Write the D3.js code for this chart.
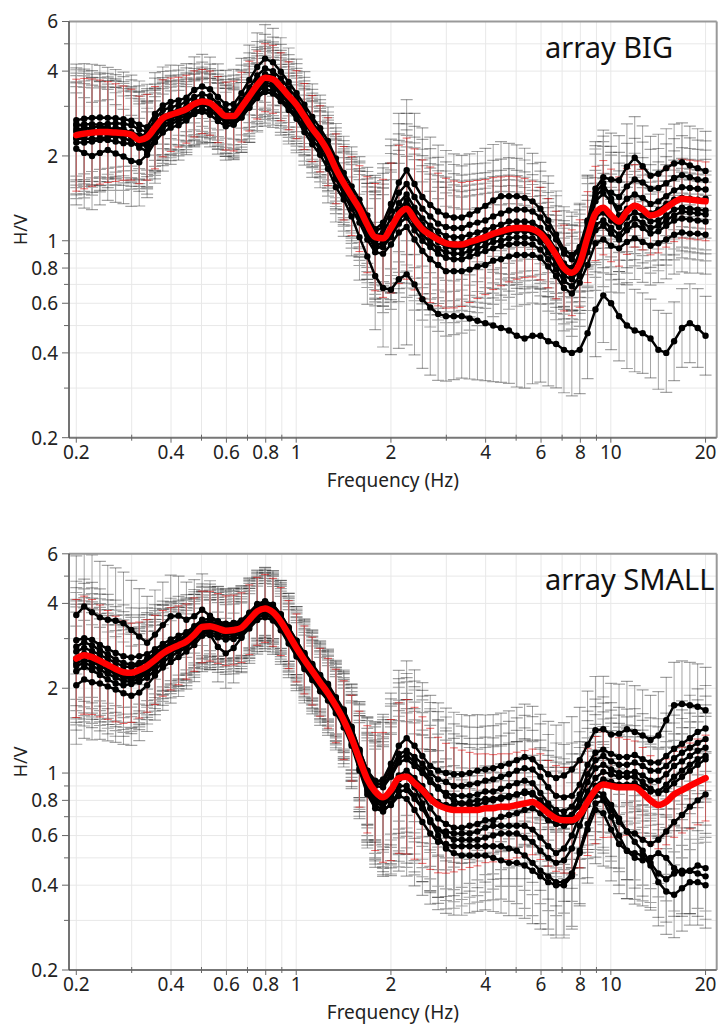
<!DOCTYPE html>
<html>
<head>
<meta charset="utf-8">
<script src="https://cdn.jsdelivr.net/npm/d3@7"></script>
<style>
  body { margin: 0; background: #fff; }
  svg { display: block; font-family: "Noto Sans", "Open Sans", sans-serif; }
</style>
</head>
<body>
<svg id="chart" width="723" height="1026"></svg>
<script>
// Frequency samples (Hz), 40 per decade
const freqs = [
  0.2000,0.2119,0.2244,0.2377,0.2518,0.2667,0.2825,0.2992,0.3170,0.3358,
  0.3557,0.3767,0.3991,0.4227,0.4477,0.4743,0.5024,0.5321,0.5637,0.5971,
  0.6325,0.6699,0.7096,0.7517,0.7962,0.8434,0.8934,0.9463,1.0024,1.0618,
  1.1247,1.1913,1.2619,1.3367,1.4159,1.4998,1.5887,1.6828,1.7825,1.8881,
  2.000,2.119,2.244,2.377,2.518,2.667,2.825,2.992,3.170,3.358,
  3.557,3.767,3.991,4.227,4.477,4.743,5.024,5.321,5.637,5.971,
  6.325,6.699,7.096,7.517,7.962,8.434,8.934,9.463,10.02,10.62,
  11.25,11.91,12.62,13.37,14.16,15.00,15.89,16.83,17.83,18.88,
  20.00
];

// ---- array BIG ----
const bigMean = [
  2.37,2.40,2.42,2.43,2.43,2.42,2.41,2.38,2.28,2.33,
  2.52,2.72,2.80,2.86,2.93,3.06,3.12,3.08,2.92,2.77,
  2.77,2.98,3.26,3.57,3.79,3.74,3.52,3.27,3.04,2.76,
  2.50,2.30,2.07,1.80,1.60,1.44,1.30,1.14,1.03,1.02,
  1.11,1.24,1.30,1.19,1.10,1.05,1.01,0.98,0.97,0.97,
  0.99,1.01,1.03,1.06,1.08,1.10,1.11,1.11,1.10,1.06,
  0.98,0.89,0.80,0.77,0.83,1.03,1.25,1.31,1.23,1.17,
  1.27,1.33,1.29,1.23,1.25,1.31,1.37,1.41,1.40,1.39,
  1.38
];
const bigSigma = [
  1.58,1.57,1.55,1.53,1.51,1.49,1.47,1.45,1.43,1.42,
  1.40,1.37,1.35,1.33,1.32,1.31,1.30,1.30,1.31,1.32,
  1.33,1.33,1.33,1.32,1.32,1.32,1.32,1.32,1.32,1.31,
  1.31,1.31,1.32,1.33,1.35,1.38,1.42,1.48,1.55,1.62,
  1.70,1.76,1.78,1.78,1.76,1.74,1.72,1.70,1.68,1.66,
  1.64,1.62,1.60,1.58,1.56,1.54,1.52,1.50,1.48,1.46,
  1.44,1.43,1.42,1.42,1.43,1.45,1.47,1.47,1.46,1.44,
  1.42,1.40,1.39,1.38,1.38,1.38,1.38,1.38,1.38,1.38,
  1.38
];
const bigStation1 = [
  2.68,2.71,2.73,2.74,2.73,2.72,2.70,2.67,2.58,2.53,
  2.82,3.02,3.11,3.15,3.22,3.43,3.53,3.45,3.24,3.05,
  3.05,3.34,3.72,4.14,4.43,4.30,3.98,3.66,3.34,3.04,
  2.75,2.51,2.26,1.96,1.74,1.56,1.40,1.23,1.10,1.16,
  1.35,1.61,1.78,1.59,1.43,1.34,1.27,1.23,1.21,1.21,
  1.24,1.28,1.33,1.39,1.44,1.44,1.44,1.42,1.38,1.30,
  1.18,1.05,0.93,0.89,0.95,1.18,1.53,1.68,1.65,1.64,
  1.83,1.97,1.84,1.70,1.73,1.81,1.88,1.90,1.85,1.81,
  1.77
];
const bigStation2 = [
  2.56,2.59,2.59,2.58,2.60,2.61,2.60,2.57,2.48,2.44,
  2.70,2.91,2.97,3.03,3.11,3.24,3.31,3.26,3.07,2.91,
  2.91,3.16,3.49,3.86,4.09,4.00,3.77,3.47,3.22,2.90,
  2.63,2.42,2.17,1.89,1.68,1.50,1.35,1.19,1.08,1.12,
  1.28,1.48,1.59,1.43,1.30,1.22,1.15,1.12,1.11,1.11,
  1.14,1.16,1.18,1.22,1.25,1.28,1.29,1.29,1.27,1.21,
  1.11,1.01,0.90,0.86,0.94,1.17,1.44,1.53,1.48,1.43,
  1.56,1.65,1.61,1.53,1.54,1.60,1.67,1.71,1.68,1.65,
  1.64
];
const bigStation3 = [
  2.44,2.45,2.44,2.48,2.50,2.49,2.46,2.43,2.37,2.33,
  2.57,2.77,2.86,2.92,2.99,3.12,3.18,3.14,2.98,2.83,
  2.83,3.04,3.36,3.68,3.90,3.85,3.59,3.34,3.10,2.82,
  2.55,2.35,2.11,1.84,1.63,1.47,1.33,1.15,1.04,1.07,
  1.20,1.36,1.46,1.31,1.20,1.13,1.08,1.04,1.03,1.03,
  1.05,1.07,1.09,1.12,1.14,1.17,1.17,1.17,1.16,1.11,
  1.03,0.93,0.83,0.80,0.87,1.10,1.38,1.47,1.38,1.31,
  1.41,1.46,1.42,1.35,1.38,1.44,1.51,1.55,1.54,1.53,
  1.52
];
const bigStation4 = [
  2.32,2.35,2.40,2.41,2.38,2.35,2.36,2.36,2.28,2.21,
  2.47,2.67,2.74,2.80,2.87,3.00,3.06,3.02,2.86,2.71,
  2.71,2.92,3.19,3.50,3.71,3.67,3.45,3.20,2.98,2.70,
  2.45,2.25,2.03,1.76,1.57,1.41,1.27,1.12,1.00,1.01,
  1.11,1.25,1.33,1.20,1.10,1.04,0.99,0.95,0.94,0.94,
  0.96,0.98,1.00,1.03,1.05,1.07,1.08,1.08,1.07,1.03,
  0.95,0.86,0.78,0.75,0.81,1.00,1.21,1.26,1.18,1.12,
  1.21,1.26,1.23,1.17,1.18,1.23,1.29,1.31,1.30,1.29,
  1.28
];
const bigStation5 = [
  2.23,2.23,2.25,2.28,2.28,2.25,2.22,2.21,2.19,2.17,
  2.39,2.58,2.66,2.72,2.78,2.88,2.93,2.90,2.77,2.63,
  2.63,2.80,3.06,3.36,3.56,3.52,3.31,3.07,2.86,2.62,
  2.38,2.19,1.97,1.71,1.52,1.35,1.21,1.05,0.94,0.95,
  1.03,1.15,1.21,1.09,1.00,0.95,0.90,0.87,0.86,0.86,
  0.88,0.90,0.92,0.94,0.96,0.97,0.98,0.98,0.97,0.93,
  0.86,0.79,0.72,0.69,0.75,0.91,1.09,1.13,1.06,1.01,
  1.09,1.14,1.11,1.06,1.08,1.13,1.18,1.20,1.19,1.18,
  1.17
];
const bigStation6 = [
  2.12,2.05,2.00,2.05,2.10,2.04,1.99,1.92,1.90,2.02,
  2.24,2.42,2.52,2.57,2.67,2.82,2.87,2.80,2.66,2.55,
  2.58,2.74,2.97,3.25,3.45,3.40,3.20,2.98,2.77,2.51,
  2.28,2.12,1.90,1.66,1.46,1.30,1.16,1.01,0.91,0.90,
  0.97,1.07,1.12,1.01,0.92,0.86,0.82,0.78,0.78,0.78,
  0.79,0.81,0.82,0.85,0.86,0.88,0.89,0.89,0.89,0.87,
  0.81,0.75,0.68,0.65,0.71,0.82,0.98,1.01,0.96,0.94,
  0.99,1.02,0.99,0.96,0.98,1.01,1.05,1.07,1.06,1.06,
  1.05
];
const bigStation7 = [
  2.49,2.50,2.52,2.55,2.53,2.47,2.41,2.33,2.23,2.19,
  2.49,2.72,2.83,2.89,2.96,3.06,3.12,3.08,2.92,2.77,
  2.80,3.01,3.29,3.61,3.83,3.78,3.52,3.27,3.04,2.76,
  2.50,2.30,2.07,1.80,1.60,1.43,1.25,1.08,0.97,0.98,
  1.11,1.29,1.39,1.25,1.14,1.08,1.03,0.99,0.98,0.98,
  1.00,1.02,1.04,1.07,1.09,1.11,1.12,1.12,1.11,1.06,
  0.98,0.89,0.81,0.80,0.90,1.15,1.48,1.60,1.41,1.23,
  1.30,1.33,1.29,1.25,1.29,1.35,1.40,1.42,1.41,1.40,
  1.41
];
const bigStation8 = [
  2.30,2.30,2.30,2.31,2.33,2.35,2.31,2.26,2.14,2.08,
  2.32,2.53,2.60,2.66,2.72,2.85,2.90,2.90,2.77,2.63,
  2.60,2.74,2.97,3.21,3.37,3.33,3.13,2.91,2.71,2.43,
  2.20,2.02,1.80,1.55,1.40,1.22,1.03,0.88,0.75,0.68,
  0.67,0.73,0.76,0.70,0.62,0.58,0.55,0.54,0.54,0.54,
  0.53,0.52,0.51,0.50,0.49,0.48,0.46,0.45,0.46,0.46,
  0.44,0.43,0.41,0.40,0.41,0.47,0.57,0.64,0.60,0.54,
  0.50,0.48,0.47,0.45,0.41,0.40,0.44,0.49,0.51,0.49,
  0.46
];
const bigStation9 = [
  2.60,2.55,2.45,2.40,2.45,2.52,2.50,2.40,2.35,2.40,
  2.44,2.64,2.72,2.77,2.84,2.97,3.03,2.99,2.83,2.69,
  2.66,2.86,3.13,3.43,3.64,3.59,3.38,3.14,2.92,2.65,
  2.40,2.21,1.99,1.73,1.54,1.38,1.24,1.08,0.96,0.95,
  1.05,1.19,1.26,1.14,1.05,0.99,0.94,0.91,0.90,0.90,
  0.92,0.94,0.96,0.99,1.00,1.02,1.03,1.03,1.02,0.99,
  0.91,0.83,0.75,0.73,0.79,0.96,1.14,1.18,1.11,1.05,
  1.14,1.20,1.16,1.11,1.13,1.18,1.23,1.27,1.26,1.25,
  1.24
];

// ---- array SMALL ----
const smallMean = [
  2.55,2.62,2.58,2.50,2.42,2.34,2.28,2.27,2.32,2.40,
  2.52,2.66,2.76,2.84,2.93,3.10,3.30,3.32,3.26,3.20,
  3.22,3.28,3.50,3.75,3.84,3.72,3.45,3.10,2.78,2.52,
  2.30,2.10,1.92,1.73,1.54,1.33,1.12,0.95,0.86,0.82,
  0.87,0.96,0.97,0.92,0.87,0.81,0.77,0.75,0.74,0.74,
  0.74,0.74,0.75,0.75,0.76,0.76,0.77,0.78,0.79,0.76,
  0.72,0.69,0.68,0.68,0.71,0.79,0.87,0.91,0.90,0.89,
  0.89,0.89,0.85,0.80,0.77,0.79,0.84,0.87,0.90,0.93,
  0.96
];
const smallSigma = [
  1.62,1.62,1.60,1.58,1.56,1.54,1.52,1.50,1.48,1.46,
  1.44,1.42,1.40,1.38,1.36,1.35,1.34,1.33,1.33,1.33,
  1.33,1.33,1.33,1.32,1.32,1.32,1.32,1.32,1.32,1.32,
  1.32,1.32,1.33,1.35,1.38,1.42,1.48,1.55,1.62,1.70,
  1.78,1.85,1.88,1.86,1.82,1.78,1.74,1.70,1.66,1.63,
  1.60,1.58,1.56,1.55,1.54,1.54,1.54,1.54,1.54,1.54,
  1.54,1.54,1.54,1.54,1.54,1.55,1.55,1.54,1.52,1.50,
  1.48,1.46,1.45,1.44,1.43,1.42,1.42,1.42,1.42,1.42,
  1.42
];
const smallStation1 = [
  3.64,3.90,3.72,3.57,3.50,3.47,3.40,3.22,3.05,2.90,
  3.10,3.35,3.60,3.62,3.50,3.60,3.80,3.62,3.45,3.38,
  3.40,3.46,3.68,3.95,4.05,3.95,3.65,3.29,2.95,2.67,
  2.44,2.23,2.07,1.86,1.68,1.46,1.21,1.02,0.93,0.95,
  1.08,1.25,1.33,1.25,1.15,1.06,1.02,1.00,0.99,0.99,
  1.00,1.02,1.03,1.04,1.06,1.08,1.11,1.14,1.12,1.05,
  0.99,0.96,0.98,1.03,1.11,1.26,1.42,1.43,1.37,1.38,
  1.43,1.40,1.36,1.31,1.36,1.54,1.74,1.76,1.74,1.72,
  1.67
];
const smallStation2 = [
  2.96,3.01,2.97,2.85,2.76,2.67,2.60,2.57,2.60,2.64,
  2.75,2.87,2.98,3.07,3.16,3.32,3.50,3.52,3.46,3.39,
  3.41,3.48,3.71,3.98,4.07,3.96,3.66,3.29,2.95,2.65,
  2.42,2.21,2.05,1.84,1.66,1.45,1.21,1.02,0.94,0.93,
  1.03,1.17,1.20,1.14,1.08,1.00,0.95,0.93,0.90,0.90,
  0.91,0.92,0.94,0.95,0.97,0.99,1.02,1.04,1.03,0.97,
  0.89,0.83,0.82,0.83,0.91,1.07,1.18,1.21,1.17,1.14,
  1.14,1.16,1.12,1.09,1.09,1.15,1.22,1.27,1.33,1.40,
  1.44
];
const smallStation3 = [
  2.70,2.78,2.71,2.63,2.54,2.46,2.39,2.38,2.41,2.50,
  2.62,2.77,2.87,2.95,3.05,3.19,3.40,3.42,3.36,3.30,
  3.32,3.38,3.61,3.86,3.96,3.85,3.55,3.19,2.86,2.60,
  2.37,2.16,2.01,1.80,1.63,1.41,1.18,0.99,0.90,0.89,
  0.97,1.09,1.12,1.06,1.00,0.93,0.88,0.85,0.83,0.83,
  0.83,0.84,0.86,0.86,0.88,0.90,0.92,0.94,0.92,0.85,
  0.78,0.74,0.73,0.76,0.84,0.99,1.11,1.15,1.10,1.07,
  1.07,1.09,1.06,1.02,1.02,1.06,1.13,1.18,1.23,1.28,
  1.32
];
const smallStation4 = [
  2.52,2.59,2.53,2.45,2.37,2.29,2.21,2.18,2.23,2.35,
  2.52,2.69,2.82,2.90,3.02,3.19,3.30,3.10,2.80,2.66,
  2.78,3.02,3.40,3.75,3.90,3.82,3.52,3.15,2.82,2.56,
  2.32,2.12,1.97,1.76,1.58,1.37,1.12,0.93,0.84,0.81,
  0.87,0.98,1.02,0.96,0.90,0.83,0.79,0.77,0.77,0.78,
  0.79,0.80,0.81,0.81,0.82,0.83,0.84,0.85,0.84,0.80,
  0.75,0.71,0.70,0.71,0.76,0.86,0.96,1.01,0.99,0.97,
  0.97,0.97,0.93,0.88,0.85,0.87,0.92,0.97,1.02,1.07,
  1.12
];
const smallStation5 = [
  2.40,2.46,2.40,2.33,2.25,2.18,2.12,2.11,2.16,2.26,
  2.39,2.55,2.68,2.75,2.84,3.01,3.20,3.22,3.16,3.10,
  3.12,3.18,3.40,3.64,3.72,3.63,3.35,3.01,2.70,2.44,
  2.23,2.04,1.89,1.70,1.53,1.33,1.08,0.89,0.80,0.78,
  0.84,0.95,0.97,0.91,0.84,0.75,0.69,0.66,0.64,0.64,
  0.65,0.66,0.68,0.68,0.70,0.71,0.72,0.74,0.75,0.72,
  0.68,0.66,0.65,0.67,0.71,0.81,0.90,0.95,0.93,0.91,
  0.91,0.92,0.89,0.86,0.86,0.91,0.97,1.02,1.07,1.12,
  1.15
];
const smallStation6 = [
  2.05,2.15,2.10,2.08,2.03,1.98,1.92,1.88,1.93,2.05,
  2.22,2.37,2.48,2.58,2.70,2.85,3.07,3.09,3.03,2.98,
  2.99,3.05,3.26,3.49,3.57,3.48,3.21,2.88,2.59,2.34,
  2.14,1.95,1.81,1.63,1.45,1.25,1.02,0.84,0.75,0.73,
  0.78,0.86,0.87,0.81,0.75,0.68,0.63,0.60,0.58,0.58,
  0.58,0.58,0.59,0.60,0.61,0.61,0.61,0.59,0.57,0.53,
  0.50,0.48,0.49,0.54,0.65,0.77,0.83,0.82,0.74,0.67,
  0.62,0.61,0.58,0.56,0.58,0.62,0.67,0.71,0.76,0.80,
  0.84
];
const smallStation7 = [
  2.30,2.38,2.32,2.23,2.15,2.08,2.05,2.07,2.11,2.18,
  2.32,2.47,2.59,2.70,2.78,2.95,3.14,3.15,3.10,3.04,
  3.06,3.12,3.33,3.56,3.65,3.55,3.28,2.95,2.64,2.39,
  2.19,2.00,1.85,1.66,1.49,1.27,1.04,0.86,0.77,0.74,
  0.77,0.83,0.81,0.74,0.67,0.61,0.57,0.56,0.55,0.55,
  0.55,0.55,0.55,0.55,0.55,0.54,0.53,0.51,0.48,0.45,
  0.43,0.41,0.41,0.44,0.52,0.63,0.74,0.72,0.63,0.56,
  0.53,0.52,0.51,0.47,0.41,0.38,0.37,0.39,0.41,0.41,
  0.40
];
const smallStation8 = [
  2.55,2.65,2.61,2.53,2.44,2.36,2.30,2.27,2.30,2.40,
  2.55,2.69,2.76,2.81,2.90,3.07,3.30,3.35,3.29,3.23,
  3.25,3.31,3.54,3.79,3.88,3.78,3.48,3.10,2.78,2.52,
  2.30,2.10,1.95,1.75,1.56,1.34,1.10,0.90,0.81,0.79,
  0.85,0.96,0.97,0.89,0.78,0.68,0.60,0.54,0.52,0.51,
  0.51,0.51,0.51,0.50,0.49,0.48,0.48,0.47,0.45,0.43,
  0.41,0.40,0.40,0.43,0.53,0.66,0.78,0.80,0.70,0.60,
  0.53,0.50,0.49,0.50,0.52,0.50,0.46,0.44,0.45,0.47,
  0.46
];
const smallStation9 = [
  2.45,2.52,2.48,2.40,2.32,2.25,2.17,2.16,2.20,2.30,
  2.44,2.61,2.73,2.81,2.93,3.10,3.27,3.29,3.23,3.17,
  3.19,3.25,3.47,3.71,3.80,3.70,3.42,3.04,2.72,2.47,
  2.25,2.06,1.91,1.72,1.55,1.33,1.08,0.88,0.79,0.76,
  0.82,0.90,0.90,0.83,0.75,0.67,0.63,0.62,0.61,0.61,
  0.61,0.62,0.64,0.65,0.65,0.65,0.65,0.65,0.63,0.59,
  0.55,0.52,0.54,0.60,0.71,0.83,0.87,0.84,0.77,0.69,
  0.62,0.57,0.53,0.48,0.44,0.42,0.44,0.45,0.45,0.44,
  0.43
];
const smallStation10 = [
  2.81,2.91,2.84,2.73,2.64,2.53,2.46,2.43,2.46,2.54,
  2.67,2.79,2.90,2.98,3.08,3.26,3.43,3.45,3.39,3.33,
  3.35,3.41,3.64,3.90,3.99,3.89,3.59,3.22,2.89,2.62,
  2.39,2.18,2.03,1.82,1.64,1.42,1.19,1.01,0.92,0.91,
  0.99,1.13,1.16,1.09,1.03,0.95,0.89,0.83,0.80,0.78,
  0.77,0.77,0.79,0.80,0.81,0.82,0.84,0.86,0.85,0.79,
  0.72,0.68,0.68,0.71,0.80,0.93,1.04,1.07,1.03,1.00,
  1.00,1.01,0.98,0.94,0.94,0.99,1.06,1.10,1.15,1.20,
  1.23
];

// Axis ticks and grid
const xDomain = [0.1896, 21.7];
const yDomain = [0.2, 6];
const xTickLabels = [0.2, 0.4, 0.6, 0.8, 1, 2, 4, 6, 8, 10, 20];
const xMinorTicks = [0.3, 0.5, 0.7, 0.9, 3, 5, 7, 9];
const xGridValues = [0.2,0.3,0.4,0.5,0.6,0.7,0.8,0.9,1,2,3,4,5,6,7,8,9,10,20];
const yTickLabels = [0.2, 0.4, 0.6, 0.8, 1, 2, 4, 6];
const yMinorTicks = [0.3, 0.5, 0.7, 0.9, 3, 5];
const yGridValues = [0.2,0.3,0.4,0.5,0.6,0.7,0.8,0.9,1,2,3,4,5,6];

const panels = [
  { title: "array BIG", top: 21.5, bottom: 437.7, mean: bigMean, sigma: bigSigma,
    stations: [bigStation1, bigStation2, bigStation3, bigStation4, bigStation5,
               bigStation6, bigStation7, bigStation8, bigStation9] },
  { title: "array SMALL", top: 553.8, bottom: 970, mean: smallMean, sigma: smallSigma,
    stations: [smallStation1, smallStation2, smallStation3, smallStation4, smallStation5,
               smallStation6, smallStation7, smallStation8, smallStation9, smallStation10] }
];

const plotLeft = 69, plotRight = 716.7;
const svg = d3.select("#chart");
const fmt = d => String(d);

panels.forEach((p, pi) => {
  const x = d3.scaleLog().domain(xDomain).range([plotLeft, plotRight]);
  const y = d3.scaleLog().domain(yDomain).range([p.bottom, p.top]);
  const g = svg.append("g");
  const clipId = "clip" + pi;
  g.append("clipPath").attr("id", clipId)
    .append("rect").attr("x", plotLeft).attr("y", p.top)
    .attr("width", plotRight - plotLeft).attr("height", p.bottom - p.top);

  // grid
  const grid = g.append("g");
  grid.selectAll("line.gx").data(xGridValues).join("line")
    .attr("class", "gx")
    .attr("x1", d => x(d)).attr("x2", d => x(d))
    .attr("y1", p.top).attr("y2", p.bottom)
    .attr("stroke", "#e8e8e8").attr("stroke-width", 1);
  grid.selectAll("line.gy").data(yGridValues).join("line")
    .attr("class", "gy")
    .attr("x1", plotLeft).attr("x2", plotRight)
    .attr("y1", d => y(d)).attr("y2", d => y(d))
    .attr("stroke", "#e8e8e8").attr("stroke-width", 1);

  const plot = g.append("g").attr("clip-path", `url(#${clipId})`);

  // per-station error bars
  const capHalf = 6;
  p.stations.forEach(vals => {
    let vpath = "", cpath = "";
    vals.forEach((v, i) => {
      const xi = x(freqs[i]);
      const hi = y(v * p.sigma[i]), lo = y(v / p.sigma[i]);
      vpath += `M${xi},${hi}V${lo}`;
      cpath += `M${xi - capHalf},${hi}H${xi + capHalf}M${xi - capHalf},${lo}H${xi + capHalf}`;
    });
    plot.append("path").attr("d", vpath).attr("fill", "none")
      .attr("stroke", "#a4a4a4").attr("stroke-width", 1);
    plot.append("path").attr("d", cpath).attr("fill", "none")
      .attr("stroke", "#000").attr("stroke-opacity", 0.36).attr("stroke-width", 1.2);
  });

  // mean error bars (red)
  let rv = "", rc = "";
  p.mean.forEach((v, i) => {
    const xi = x(freqs[i]);
    const hi = y(v * p.sigma[i]), lo = y(v / p.sigma[i]);
    rv += `M${xi},${hi}V${lo}`;
    rc += `M${xi - 4},${hi}H${xi + 4}M${xi - 4},${lo}H${xi + 4}`;
  });
  plot.append("path").attr("d", rv).attr("fill", "none")
    .attr("stroke", "#e00000").attr("stroke-opacity", 0.45).attr("stroke-width", 1);
  plot.append("path").attr("d", rc).attr("fill", "none")
    .attr("stroke", "#e00000").attr("stroke-opacity", 0.6).attr("stroke-width", 1);

  // station curves
  const line = d3.line().x((d, i) => x(freqs[i])).y(d => y(d));
  p.stations.forEach(vals => {
    plot.append("path").datum(vals).attr("d", line)
      .attr("fill", "none").attr("stroke", "#000").attr("stroke-width", 2.5)
      .attr("stroke-linejoin", "round");
    plot.append("g").selectAll("circle").data(vals).join("circle")
      .attr("cx", (d, i) => x(freqs[i])).attr("cy", d => y(d)).attr("r", 3.2)
      .attr("fill", "#000");
  });

  // mean curve
  plot.append("path").datum(p.mean)
    .attr("d", d3.line().x((d, i) => x(freqs[i])).y(d => y(d)).curve(d3.curveMonotoneX))
    .attr("fill", "none").attr("stroke", "#ff0000").attr("stroke-width", 6.5)
    .attr("stroke-linejoin", "round").attr("stroke-linecap", "round");

  // frame
  g.append("line").attr("x1", plotLeft).attr("x2", plotRight).attr("y1", p.top).attr("y2", p.top)
    .attr("stroke", "#999").attr("stroke-width", 2);
  g.append("line").attr("x1", plotRight).attr("x2", plotRight).attr("y1", p.top).attr("y2", p.bottom)
    .attr("stroke", "#999").attr("stroke-width", 2);
  g.append("line").attr("x1", plotLeft).attr("x2", plotRight).attr("y1", p.bottom).attr("y2", p.bottom)
    .attr("stroke", "#777").attr("stroke-width", 2);
  g.append("line").attr("x1", plotLeft).attr("x2", plotLeft).attr("y1", p.top).attr("y2", p.bottom)
    .attr("stroke", "#444").attr("stroke-width", 1.5);

  // x ticks
  g.selectAll("line.xt").data(xTickLabels).join("line").attr("class", "xt")
    .attr("x1", d => x(d)).attr("x2", d => x(d))
    .attr("y1", p.bottom).attr("y2", p.bottom + 5)
    .attr("stroke", "#666").attr("stroke-width", 1);
  g.selectAll("line.xm").data(xMinorTicks).join("line").attr("class", "xm")
    .attr("x1", d => x(d)).attr("x2", d => x(d))
    .attr("y1", p.bottom - 3).attr("y2", p.bottom + 3)
    .attr("stroke", "#666").attr("stroke-width", 1);
  g.selectAll("text.xl").data(xTickLabels).join("text").attr("class", "xl")
    .attr("x", d => x(d)).attr("y", p.bottom + 21)
    .attr("text-anchor", "middle").attr("font-size", 19).attr("fill", "#222")
    .text(fmt);

  // y ticks
  g.selectAll("line.yt").data(yTickLabels).join("line").attr("class", "yt")
    .attr("x1", plotLeft - 7).attr("x2", plotLeft)
    .attr("y1", d => y(d)).attr("y2", d => y(d))
    .attr("stroke", "#666").attr("stroke-width", 1);
  g.selectAll("line.ym").data(yMinorTicks).join("line").attr("class", "ym")
    .attr("x1", plotLeft - 5).attr("x2", plotLeft)
    .attr("y1", d => y(d)).attr("y2", d => y(d))
    .attr("stroke", "#666").attr("stroke-width", 1);
  g.selectAll("text.yl").data(yTickLabels).join("text").attr("class", "yl")
    .attr("x", plotLeft - 11).attr("y", d => y(d)).attr("dy", "0.36em")
    .attr("text-anchor", "end").attr("font-size", 19).attr("fill", "#222")
    .text(fmt);

  // axis titles
  g.append("text")
    .attr("transform", `translate(26.5,${(p.top + p.bottom) / 2}) rotate(-90)`)
    .attr("text-anchor", "middle").attr("font-size", 18).attr("fill", "#222")
    .text("H/V");
  g.append("text")
    .attr("x", (plotLeft + plotRight) / 2).attr("y", p.bottom + 49)
    .attr("text-anchor", "middle").attr("font-size", 19).attr("fill", "#222")
    .text("Frequency (Hz)");

  // panel title
  g.append("text").attr("x", 545).attr("y", p.top + 36.5)
    .attr("font-size", 29).attr("fill", "#111")
    .text(p.title);
});
</script>
